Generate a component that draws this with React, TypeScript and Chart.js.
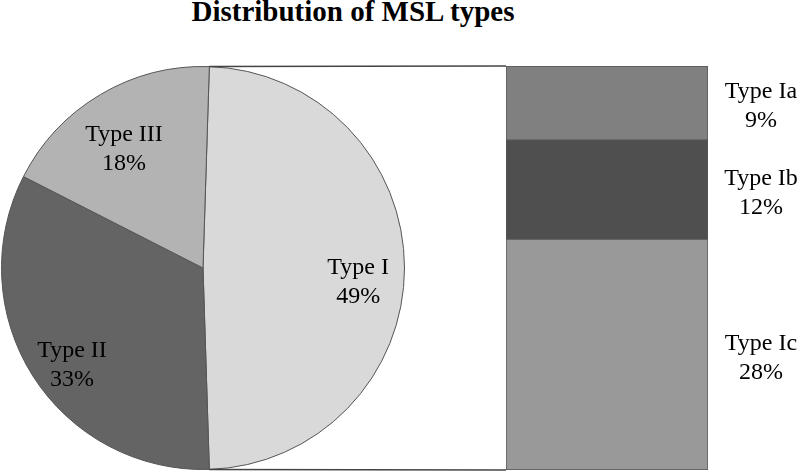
import React, { useEffect, useRef } from "react";
import { Chart, registerables } from "chart.js";

Chart.register(...registerables);

const chartTitle = "Distribution of MSL types";
const pieLabels = ["Type I", "Type II", "Type III"];
const pieValues = [49, 33, 18];
const pieColors = ["#d9d9d9", "#646464", "#b3b3b3"];
const barLabels = ["Type Ic", "Type Ib", "Type Ia"];
const barValues = [28, 12, 9];
const barColors = ["#999999", "#4f4f4f", "#808080"];

const W = 800;
const H = 472;
const FONT = '"Liberation Serif", "Times New Roman", serif';
const LINE = "#555555";

export default function App() {
  const pieRef = useRef<HTMLCanvasElement | null>(null);
  const barRef = useRef<HTMLCanvasElement | null>(null);

  useEffect(() => {
    document.body.style.margin = "0";
    const pieSum = pieValues.reduce((a, b) => a + b, 0);
    const barSum = barValues.reduce((a, b) => a + b, 0);

    const pieLabelPlugin = {
      id: "pieLabels",
      afterDatasetsDraw(chart: any) {
        const ctx = chart.ctx;
        const meta = chart.getDatasetMeta(0);
        ctx.save();
        ctx.fillStyle = "#000";
        ctx.font = `24px ${FONT}`;
        ctx.textAlign = "center";
        ctx.textBaseline = "middle";
        meta.data.forEach((arc: any, i: number) => {
          const mid = (arc.startAngle + arc.endAngle) / 2;
          const r = arc.outerRadius * 0.77;
          const x = arc.x + Math.cos(mid) * r;
          const y = arc.y + Math.sin(mid) * r + 14;
          ctx.fillText(pieLabels[i], x, y - 14);
          ctx.fillText(`${pieValues[i]}%`, x, y + 15);
        });
        ctx.restore();
      },
    };

    const pie = new Chart(pieRef.current as HTMLCanvasElement, {
      type: "pie",
      data: {
        labels: pieLabels,
        datasets: [
          {
            data: pieValues,
            backgroundColor: pieColors,
            borderColor: LINE,
            borderWidth: 1,
          },
        ],
      },
      options: {
        responsive: false,
        animation: false,
        rotation: 90 - (pieValues[0] / pieSum) * 180,
        layout: { padding: { left: 1, top: 66, right: 395, bottom: 2 } },
        plugins: { legend: { display: false }, tooltip: { enabled: false } },
      },
      plugins: [pieLabelPlugin],
    });

    const barPlugin = {
      id: "barExtras",
      afterDatasetsDraw(chart: any) {
        const ctx = chart.ctx;
        const topBar: any = chart.getDatasetMeta(barValues.length - 1).data[0];
        const bottomBar: any = chart.getDatasetMeta(0).data[0];
        const left = topBar.x - topBar.width / 2;
        const right = topBar.x + topBar.width / 2;
        const barTop = topBar.y;
        const barBottom = bottomBar.base;
        const arc: any = pie.getDatasetMeta(0).data[0];
        ctx.save();
        ctx.strokeStyle = "#444444";
        ctx.lineWidth = 1.5;
        const r = arc.outerRadius;
        const sx = arc.x + Math.cos(arc.startAngle) * r;
        const sy = arc.y + Math.sin(arc.startAngle) * r;
        const ex = arc.x + Math.cos(arc.endAngle) * r;
        const ey = arc.y + Math.sin(arc.endAngle) * r;
        ctx.beginPath();
        ctx.moveTo(sx, sy);
        ctx.lineTo(left, barTop);
        ctx.moveTo(ex, ey);
        ctx.lineTo(left, barBottom);
        ctx.stroke();
        ctx.fillStyle = "#000";
        ctx.font = `24px ${FONT}`;
        ctx.textAlign = "center";
        ctx.textBaseline = "middle";
        barLabels.forEach((lab, i) => {
          const el: any = chart.getDatasetMeta(i).data[0];
          const cy = (el.y + el.base) / 2 + 3;
          const cx = right + 53;
          ctx.fillText(lab, cx, cy - 14);
          ctx.fillText(`${barValues[i]}%`, cx, cy + 15);
        });
        ctx.restore();
      },
    };

    const bar = new Chart(barRef.current as HTMLCanvasElement, {
      type: "bar",
      data: {
        labels: ["Type I"],
        datasets: barLabels.map((lab, i) => ({
          label: lab,
          data: [barValues[i]],
          backgroundColor: barColors[i],
          borderColor: LINE,
          borderWidth: 1,
          borderSkipped: false,
          barPercentage: 1,
          categoryPercentage: 1,
        })),
      },
      options: {
        responsive: false,
        animation: false,
        layout: { padding: { left: 506, top: 66, right: 92, bottom: 2 } },
        scales: {
          x: { stacked: true, display: false },
          y: { stacked: true, display: false, min: 0, max: barSum },
        },
        plugins: { legend: { display: false }, tooltip: { enabled: false } },
      },
      plugins: [barPlugin],
    });

    return () => {
      bar.destroy();
      pie.destroy();
    };
  }, []);

  return (
    <div style={{ position: "relative", width: W, height: H, background: "#fff" }}>
      <div
        style={{
          position: "absolute",
          left: 0,
          top: -3,
          width: 706,
          textAlign: "center",
          fontFamily: FONT,
          fontWeight: "bold",
          fontSize: 29,
          lineHeight: "29px",
          color: "#000",
        }}
      >
        {chartTitle}
      </div>
      <canvas ref={pieRef} width={W} height={H} style={{ position: "absolute", left: 0, top: 0 }} />
      <canvas ref={barRef} width={W} height={H} style={{ position: "absolute", left: 0, top: 0 }} />
    </div>
  );
}
